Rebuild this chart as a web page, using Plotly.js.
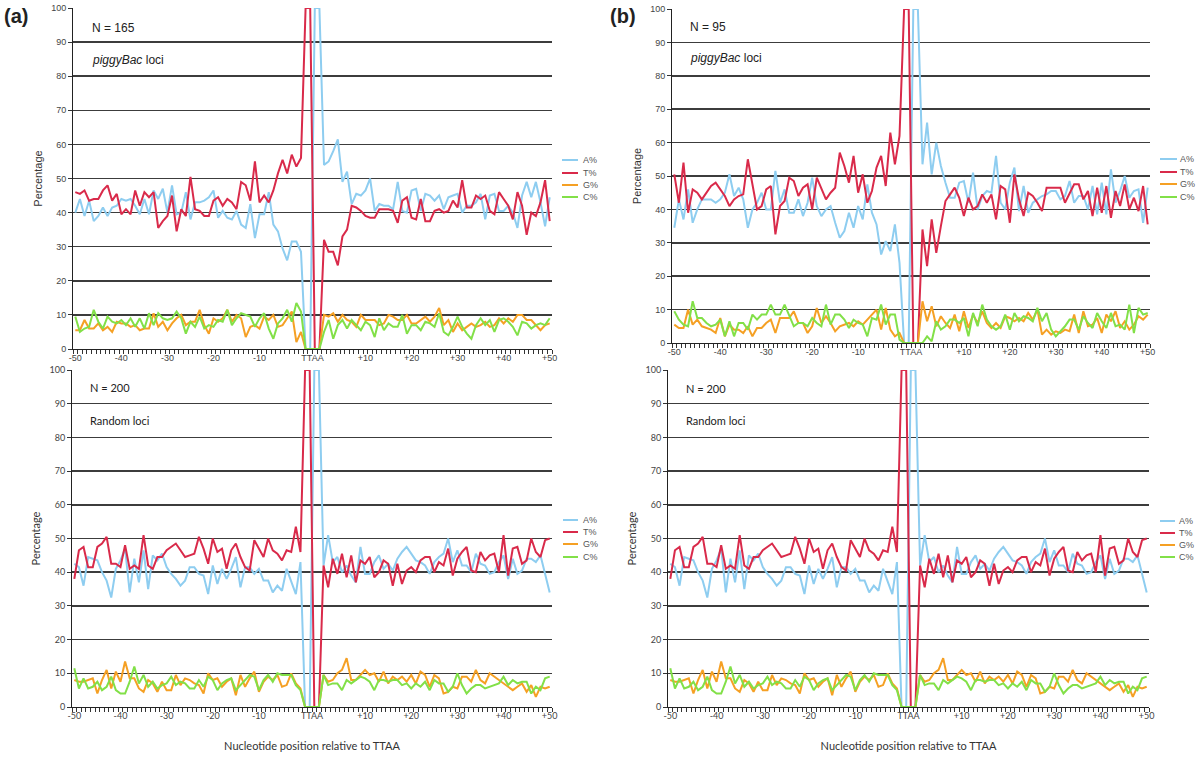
<!DOCTYPE html>
<html><head><meta charset="utf-8">
<script src="https://cdn.plot.ly/plotly-3.0.1.min.js"></script>
<style>html,body{margin:0;padding:0;background:#fff}#chart{width:1200px;height:761px}</style>
</head><body><div id="chart"></div>
<script>
// x index 0..103 : -50..-1, T, T, A, A, +1..+50
const tickVals = [0,10,20,30,40,51.5,63,73,83,93,103];
const tickLabels = ['-50','-40','-30','-20','-10','TTAA','+10','+20','+30','+40','+50'];
const seriesNames = ['A%','T%','G%','C%'];
const seriesColors = ['#8ecdf0','#d92a4a','#f5a024','#82e048'];

// (a) piggyBac loci, N = 165
const pbA_A = [40,44,39,43.5,37.5,39,41.5,39,41.5,42, 44,43.5,44,42,39.5,44,39.5,46.5,44,47, 40,48,39.5,40,46,38,43,43,43.5,44.5, 46.5,38.5,40.5,38.5,38,40.5,36.5,35.5,42.5,32.5, 39.5,39.5,46,36.5,34.5,29.5,26,31.5,31.5,28.5,
  0,0,100,100,
  54,55,58,61.5,49,52,42.5,45.5,45,46.5, 50,40.5,42.5,42,42,41,49,40.5,40,46.5, 47,40.5,45.5,45,43.5,45,41,44.5,45,45.5, 40,42,42,43,45.5,38,45,45.5,40.5,40.5, 42,40,35.5,45,49,44.5,49,43,36,44.5];
const pbA_T = [46,45.5,46.5,43.5,44,44,46.5,48,43.5,45.5, 39.5,41,39.5,46.5,42,46,44.5,46,35.5,37.5, 39,45,34.5,41,39,50.5,41,40.5,39,39, 43.5,44.5,42,44,43,41,49,48,43.5,55, 43,45,43,46.5,51.5,55.5,51.5,57,53.5,56,
  100,100,0,0,
  32,28.5,28.5,24.5,33,35,42,41.5,40.5,39, 38.5,38.5,41,41,41,40.5,37,43.5,44.5,38.5, 38,44,37.5,37.5,40.5,41,40,40.5,43.5,41.5, 49.5,41.5,41.5,45,44,45,40.5,39.5,46,44, 42,38,46,42,33.5,40,39,43,49.5,37.5];
const pbA_G = [5.5,5.5,8.5,6,6,7.5,5.5,6.5,5,8, 7.5,7.5,6.5,7,5.5,6,6,10.5,6.5,8, 5.5,7.5,9,10,7,8,8,11.5,7,4.5, 9,8,9,11.5,8,10,9,3.5,6.5,7, 6,9.5,8.5,10,6.5,7,9,11,2,5,
  0,0,0,0,
  10,9.5,10.5,8,10,8.5,8,6.5,10,8.5, 8.5,8.5,7,7.5,10,9.5,8.5,8.5,10,7.5, 7.5,8.5,9.5,8,9.5,12,7,8.5,5,7.5, 5.5,6.5,7.5,6.5,7,8,6.5,7,9,7.5, 9,8,10,10,8.5,8.5,7,5.5,7,7.5];
const pbA_C = [9.5,5,6,6.5,11.5,8,6,9.5,8,7.5, 8.5,7,9,6.5,9,6,10.5,7,10.5,9, 8.5,9,11,9,4.5,8,6.5,9.5,6,7, 6.5,8.5,8,11.5,7,9,10.5,10,9.5,6.5, 9,10.5,6,3,7.5,9,11.5,8,13.5,11,
  0,0,0,0,
  5,8.5,3,7,8.5,6,8.5,7,5.5,8, 7,3.5,9,5.5,7.5,6.5,6.5,10,4.5,7, 7,5.5,8,7.5,6.5,10.5,5,4,6.5,9.5, 6.5,4.5,3,7,9,7,8.5,5,8.5,9, 8,6.5,4,8,7.5,6,7,7.5,7,9];

// (b) piggyBac loci, N = 95
const pbB_A = [34.5,43,37,46,36,40,43,43,43,42, 43,45,50.5,44,46.5,43,34.5,40,42,45, 40,40,51.5,42,46,39,39,43,38,42, 49.5,41,38,40,41,36,31.5,33.5,39,34.5, 41,37,47.5,39,35.5,26.5,30.5,27.5,35.5,24,
  0,0,100,100,
  53.5,66,50.5,60,53,48,43.5,43.5,48,48.5, 42,51,40,44,45.5,45,56,42,40,48, 52.5,39.5,47,39,42,43,44,44.5,45.5,45.5, 43,44,48.5,42,44,44,40,47,38.5,48, 38.5,52,42,45.5,50,43.5,45.5,46,36,46.5];
const pbB_T = [50.5,42,54,39,46,45,43,45,47,48, 46,44,41,43,44,44.5,55,48,40,41, 46,47,32.5,41,42.5,49.5,48.5,44,46.5,47.5, 40,49.5,46,43,45,46.5,57,53,48,56, 45,50.5,42,45.5,52.5,56,47,63,53.5,62,
  100,100,0,0,
  34,23,37,27,35,42.5,44.5,46.5,43.5,38, 43.5,40,41,44.5,42,44.5,37,47,46,36, 50.5,43,38,45,44,42,39.5,46.5,46.5,46.5, 46.5,42,45,47.5,47.5,43,45.5,38,46.5,39, 47,37.5,45.5,41,47.5,40,43.5,39.5,47,35.5];
const pbB_G = [5.5,4.5,4.5,10,5.5,7,5,4.5,4,3, 7.5,2,5.5,4,4,3,5,2,4.5,4.5, 6,7,3,7.5,7.5,7.5,9.5,6,6,3, 5,10.5,6,8,6,3.5,5,5.5,6,5, 6.5,5.5,7,8.5,10,4,10.5,4,2,3,
  0,0,0,0,
  12.5,6.5,11,5,8,6,4.5,8.5,3.5,9.5, 4.5,8.5,6,9.5,6,4.5,6,4.5,8,7.5, 6.5,7.5,6.5,9,7,10,2.5,4,2.5,3.5, 3,4,3.5,8.5,3,9.5,5,5.5,7.5,3, 8.5,6.5,9.5,4.5,6.5,4,5.5,8,7,8.5];
const pbB_C = [9.5,7,5.5,5,12.5,7.5,7.5,6,5,5.5, 7,2,6.5,2,6,6,4,8.5,7,8.5, 8.5,11.5,8.5,8.5,11.5,8.5,5,6,6,5, 7.5,6,5,11.5,5.5,8.5,8.5,7,4.5,7, 6,5.5,2,7.5,7,11.5,5.5,8.5,8.5,1,
  0,0,0,0,
  0,2,0.5,6.5,4,5,7,7,6,7.5, 2,9,5,11.5,7,5,4,5,8.5,4, 9,6.5,8,7.5,6.5,10.5,6.5,9,4,2, 3.5,5,7,7,4,8,6,4.5,9,6.5, 4.5,9,5,5.5,4,11.5,3,10.5,8.5,9];

// Random loci, N = 200 (same in both columns)
const rnd_A = [42.5,41.5,36,44.5,44,43.5,40,37.5,32.5,41, 43.5,47,34,44,37,46.5,35,45,43.5,45.5, 41.5,39.5,38,36,37.5,41.5,41.5,39.5,39,33.5, 42,36.5,41,38,41,44.5,35.5,41.5,41.5,39.5, 41,37.5,37.5,34,36,34.5,41,37,33.5,43,
  0,0,100,100,
  42,51,43,44.5,40,42,39,37,47.5,39.5, 39.5,43,45,41,42.5,40.5,44,46,47.5,45.5, 43.5,43,42,39.5,43,44.5,45.5,50,43,46.5, 42,42,40,45.5,42.5,42,39.5,40,43,45, 38,44,39.5,40.5,44,44,43,45,39.5,34];
const rnd_T = [38,46.5,47.5,41.5,41.5,47.5,48.5,50.5,42.5,42.5, 41.5,48,41,42,41,51,42,41,44.5,44.5, 46.5,47.5,48.5,46.5,44.5,45,45.5,50.5,47,42.5, 50,46,47,41,46.5,48.5,44.5,41.5,40.5,49.5, 47,44.5,50,46.5,45.5,43.5,46.5,46,53.5,46,
  100,100,0,0,
  42,35.5,44,39.5,45.5,38.5,45,37,43.5,42.5, 44.5,38.5,40,43.5,42.5,36,42.5,36.5,40.5,41.5, 40,43.5,44.5,44.5,40,43,42,47,39,44, 46,47.5,40.5,40,46,43.5,45,45.5,40,51, 39,47,47.5,42.5,43.5,50,46,44.5,49.5,50];
const rnd_G = [8,7.5,7.5,8,8.5,4,8,11,5.5,10.5, 7.5,13.5,8.5,8.5,5.5,4.5,8,7,4.5,7.5, 5,5,9.5,6.5,8.5,8,7,6.5,4,10, 8,8.5,6,7.5,8.5,3.5,9.5,6,8.5,10.5, 4.5,7.5,9,8,9.5,6,6.5,10,7,5.5,
  0,0,0,0,
  9.5,7.5,8,10,11,14.5,8,8,9.5,11, 9.5,10,7.5,10.5,7,9,8,9,7.5,9.5, 7,10.5,9.5,6,9.5,8.5,4,4.5,6,5.5, 9,9,7.5,11,8,7,10,9,8,7, 6,5,6,7,4.5,6.5,3,6,5.5,6];
const rnd_C = [11.5,5.5,8.5,5.5,6,7.5,5,6,9,5, 4,4,7.5,12,7,9.5,6,7.5,5.5,6.5, 7,9,6.5,7.5,7,5.5,5.5,8,6,9, 8,5,7,8,8.5,5,6.5,8,9.5,9, 5,8,9.5,7.5,10,9.5,9.5,9.5,6.5,5,
  0,0,0,0,
  9.5,6.5,7,7,5,8,7,8,9,8.5, 7.5,5,8,8,7.5,8,8,6.5,7,5.5, 7,6,7.5,5,8,7,7,4.5,6,10, 6.5,4,5.5,6.5,6.5,5.5,6,6.5,7,9, 6.5,8,7,7.5,7.5,4,6,5,8.5,9];

const xIdx = pbA_A.map((_, i) => i);

const panels = [
  {sets:[pbA_A,pbA_T,pbA_G,pbA_C], xa:'x', ya:'y', leg:[562,578,581,[160,173,185,197]]},
  {sets:[pbB_A,pbB_T,pbB_G,pbB_C], xa:'x2', ya:'y2', leg:[1160,1177,1178,[159,172,184,197]]},
  {sets:[rnd_A,rnd_T,rnd_G,rnd_C], xa:'x3', ya:'y3', leg:[563,578,581,[520,532,544,557]]},
  {sets:[rnd_A,rnd_T,rnd_G,rnd_C], xa:'x4', ya:'y4', leg:[1160,1175,1177,[521,533,545,557]]}
];

const W = 1200, H = 761;
const px = v => v / W, py = v => 1 - v / H;

const traces = [];
const shapes = [];
const legendTexts = [];
panels.forEach(p => {
  p.sets.forEach((vals, k) => {
    traces.push({type:'scatter', mode:'lines', x:xIdx, y:vals, name:seriesNames[k],
      xaxis:p.xa, yaxis:p.ya, showlegend:false,
      line:{color:seriesColors[k], width:2}, hoverinfo:'skip'});
    const [x0, x1, xt, ys] = p.leg;
    shapes.push({type:'line', xref:'paper', yref:'paper', x0:px(x0), x1:px(x1), y0:py(ys[k]), y1:py(ys[k]),
      line:{color:seriesColors[k], width:2}});
    legendTexts.push({xref:'paper', yref:'paper', x:px(xt), y:py(ys[k]), xanchor:'left', yanchor:'middle',
      showarrow:false, text:seriesNames[k], font:{family:'Liberation Sans', size:9, color:'#555'}});
  });
});

function xAxis(l, r, anchor, fam, title) {
  const a = {domain:[px(l), px(r)], anchor, range:[-0.5,103.5], tickmode:'array',
    tickvals:tickVals, ticktext:tickLabels, tickangle:0, ticks:'', showgrid:false,
    zeroline:false, showline:true, linecolor:'#222', linewidth:1,
    tickfont:{family:fam, size:9, color:'#444'},
    minor:{tickmode:'linear', tick0:-0.5, dtick:1, ticks:'outside', ticklen:4, tickwidth:1, tickcolor:'#333', showgrid:false},
    fixedrange:true};
  if (title) a.title = {text:title, font:{family:fam, size:11, color:'#333'}, standoff:22};
  return a;
}
function yAxis(t, b, anchor, fam) {
  return {domain:[py(b), py(t)], anchor, range:[0,100], dtick:10, tick0:0,
    showgrid:true, gridcolor:'#3c3c3c', gridwidth:1.5, zeroline:false,
    showline:true, linecolor:'#222', linewidth:1, ticks:'outside', ticklen:4, tickcolor:'#333',
    tickfont:{family:fam, size:9, color:'#444'},
    title:{text:'Percentage', font:{family:fam, size:11, color:'#333'}, standoff:6},
    fixedrange:true};
}
const fTop = 'Liberation Sans', fBot = 'Lato';

const ann = (x, y, text, size, fam) => ({xref:'paper', yref:'paper', x:px(x), y:py(y),
  xanchor:'left', yanchor:'middle', showarrow:false, text, font:{family:fam, size, color:'#222'}});

const layout = {
  width:W, height:H, margin:{l:0,r:0,t:0,b:0}, paper_bgcolor:'#fff', plot_bgcolor:'#fff',
  showlegend:false,
  xaxis: xAxis(73, 552, 'y', fTop),
  yaxis: yAxis(8, 349, 'x', fTop),
  xaxis2: xAxis(672, 1150, 'y2', fTop),
  yaxis2: yAxis(9, 343, 'x2', fTop),
  xaxis3: xAxis(72, 552, 'y3', fBot, 'Nucleotide position relative to TTAA'),
  yaxis3: yAxis(370, 707, 'x3', fBot),
  xaxis4: xAxis(668, 1149, 'y4', fBot, 'Nucleotide position relative to TTAA'),
  yaxis4: yAxis(370, 707, 'x4', fBot),
  shapes,
  annotations:[
    ann(2, 16, '<b>(a)</b>', 20, 'Liberation Sans'),
    ann(608, 16, '<b>(b)</b>', 20, 'Liberation Sans'),
    ann(90, 28, 'N = 165', 12, fTop),
    ann(90, 60, '<i>piggyBac</i> loci', 12, fTop),
    ann(688, 27, 'N = 95', 12, fTop),
    ann(688, 58, '<i>piggyBac</i> loci', 12, fTop),
    ann(88, 387, 'N = 200', 11, fBot),
    ann(88, 420, 'Random loci', 11, fBot),
    ann(684, 388, 'N = 200', 11, fBot),
    ann(684, 420, 'Random loci', 11, fBot)
  ].concat(legendTexts)
};
Plotly.newPlot('chart', traces, layout, {staticPlot:true, displayModeBar:false});
</script></body></html>
